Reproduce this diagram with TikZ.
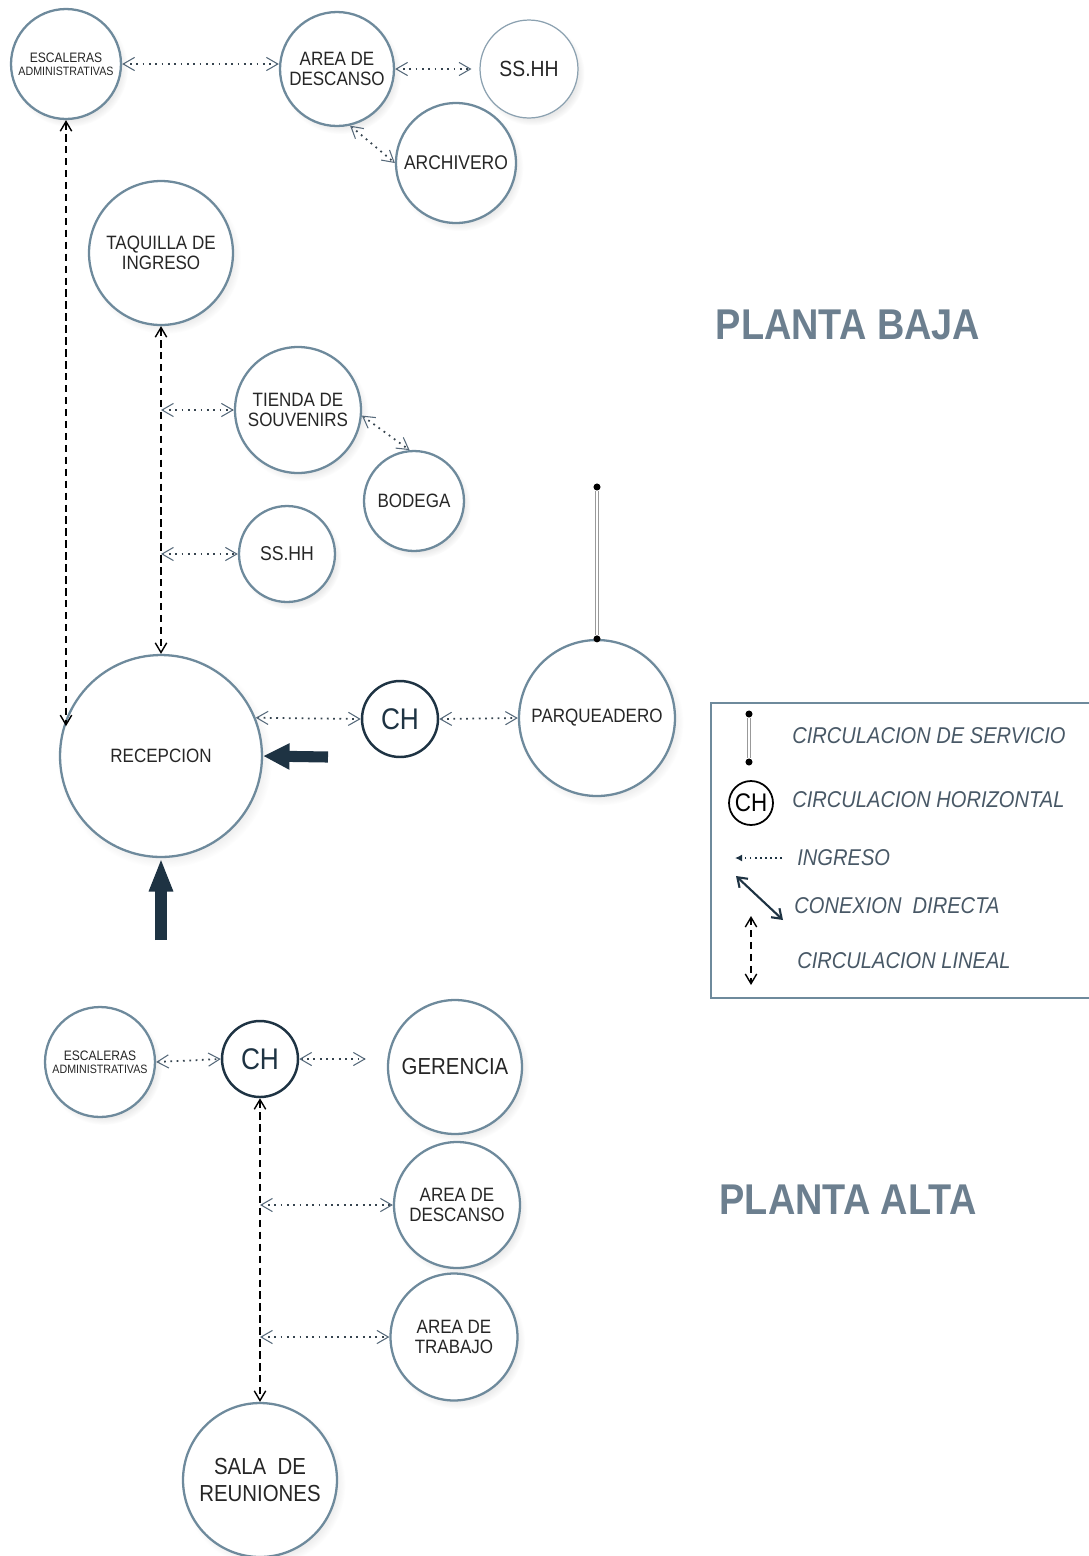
\documentclass[tikz,border=0pt]{standalone}
\usepackage{fontspec}
\setmainfont{Liberation Sans}[FakeStretch=0.88]
\usetikzlibrary{arrows.meta,positioning,calc,shadows}

\definecolor{ringblue}{HTML}{6E8A9C}
\definecolor{tipblue}{HTML}{56697A}
\definecolor{dotdark}{HTML}{36444F}
\definecolor{navy}{HTML}{1E3343}
\definecolor{titlegray}{HTML}{6C7F8F}
\definecolor{legendtext}{HTML}{485866}
\definecolor{labeltext}{HTML}{262626}

\begin{document}
\begin{tikzpicture}[
  x=0.02cm,y=-0.02cm,
  space/.style={circle,draw=ringblue,line width=1.3pt,fill=white,inner sep=0pt,align=center,text=labeltext,font=\fontsize{11}{11.5}\selectfont,
    circular drop shadow={shadow xshift=2pt,shadow yshift=-2.5pt,shadow scale=1.06,opacity=0.18}},
  stairs/.style={space,minimum size=2.2cm,font=\fontsize{7.8}{7.6}\selectfont},
  hub/.style={circle,draw=navy,line width=1.4pt,fill=white,inner sep=0pt,minimum size=1.52cm,text=navy,font=\fontsize{17}{18}\selectfont},
  ingreso/.style={{Straight Barb[length=6.5pt,width=7.5pt,line width=0.6pt,color=tipblue]}-{Straight Barb[length=6.5pt,width=7.5pt,line width=0.6pt,color=tipblue]},draw=dotdark,line width=1pt,dash pattern=on 1pt off 2.6pt},
  lineal/.style={{Straight Barb[length=5.5pt,width=6.5pt,line width=0.8pt]}-{Straight Barb[length=5.5pt,width=6.5pt,line width=0.8pt]},draw=black,line width=1.2pt,dash pattern=on 4.2pt off 2.6pt},
  entrada/.style={draw=navy,line width=6.3pt},
  servicio/.style={draw=black!40,double=white,double distance=1.3pt,line width=0.45pt},
  enddot/.style={circle,fill=black,inner sep=0pt,minimum size=4pt},
  title/.style={font=\fontsize{24.5}{26}\selectfont\bfseries,text=titlegray},
  legendlabel/.style={anchor=west,inner sep=0pt,font=\fontsize{13}{14}\selectfont\itshape,text=legendtext}
]
\useasboundingbox (0,0) rectangle (1089,1556);

% Planta baja: administrative block on top, public spaces around the reception.
\node[stairs] (pbescal) at (66,64) {ESCALERAS\\{\fontsize{6.9}{7.6}\selectfont ADMINISTRATIVAS}};
\node[space,minimum size=2.28cm] (pbdesc) at (337,69) {AREA DE\\DESCANSO};
\node[space,minimum size=1.96cm,line width=0.7pt,draw=ringblue!80,font=\fontsize{12.5}{13}\selectfont] (pbss) at (529,69) {SS.HH};
\node[space,minimum size=2.4cm,font=\fontsize{11.3}{12}\selectfont] (pbarch) at (456,163) {ARCHIVERO};
\node[space,minimum size=2.88cm] (pbtaq) at (161,253) {TAQUILLA DE\\INGRESO};
\node[space,minimum size=2.52cm] (pbtienda) at (298,410) {TIENDA DE\\SOUVENIRS};
\node[space,minimum size=2.0cm] (pbbodega) at (414,501) {BODEGA};
\node[space,minimum size=1.92cm,font=\fontsize{11.4}{12}\selectfont] (pbsshh) at (287,554) {SS.HH};
\node[space,minimum size=4.04cm] (pbrecep) at (161,756) {RECEPCION};
\node[hub] (pbch) at (400,719) {CH};
\node[space,minimum size=3.12cm] (pbparq) at (597,718) {PARQUEADERO};

\draw[ingreso] (pbescal.east) -- (pbescal.east -| pbdesc.west);
\draw[ingreso,shorten >=4.5pt] (pbdesc.east) -- (pbss.west);
\draw[ingreso] (pbdesc.-77) -- (pbarch.west);
\draw[lineal] (pbescal.south) -- (pbescal.south |- pbrecep.163);
\draw[lineal] (pbtaq.south) -- (pbrecep.north);
\draw[ingreso] (pbtaq.south |- pbtienda.west) -- (pbtienda.west);
\draw[ingreso] (pbtaq.south |- pbsshh.west) -- (pbsshh.west);
\draw[ingreso] (pbtienda.-5) -- (pbbodega.95);
\draw[ingreso] (pbrecep.22) -- (pbch.west);
\draw[ingreso] (pbch.east) -- (pbparq.west);

% Service line above the parking
\node[enddot] (pbservtop) at (597,487) {};
\node[enddot] (pbservbot) at (pbparq.north) {};
\draw[servicio] (pbservtop) -- (pbservbot);

% Entrances
\coordinate (pbentE) at (328,757);
\coordinate (pbentS) at (161,940);
\draw[entrada,-{Triangle[length=15pt,width=14pt]}] (pbentE) -- (pbrecep.east);
\draw[entrada,-{Triangle[length=19pt,width=12.5pt]}] (pbentS) -- (pbrecep.south);

\node[title] (pbtitle) at (848,325) {PLANTA BAJA};

% Planta alta
\node[stairs] (paescal) at (100,1062) {ESCALERAS\\{\fontsize{6.9}{7.6}\selectfont ADMINISTRATIVAS}};
\node[hub] (pach) at (260,1059) {CH};
\node[space,minimum size=2.68cm,font=\fontsize{13.2}{14}\selectfont] (pager) at (455,1067) {GERENCIA};
\node[space,minimum size=2.52cm] (padesc) at (457,1205) {AREA DE\\DESCANSO};
\node[space,minimum size=2.54cm] (patrab) at (454,1337) {AREA DE\\TRABAJO};
\node[space,minimum size=3.08cm,font=\fontsize{13.2}{15}\selectfont] (pasala) at (260,1480) {SALA\ \ DE\\REUNIONES};

\draw[ingreso] (paescal.east) -- (pach.west);
\draw[ingreso,shorten >=12pt] (pach.east) -- (pach.east -| pager.west);
\draw[lineal] (pach.south) -- (pasala.north);
\draw[ingreso] (pach.south |- padesc.west) -- (padesc.west);
\draw[ingreso] (pach.south |- patrab.west) -- (patrab.west);

\node[title] (patitle) at (848,1200) {PLANTA ALTA};

% Legend
\draw[draw=ringblue,line width=0.8pt] (711,703) rectangle (1100,998);
\node[enddot] (lgservA) at (749,714) {};
\node[enddot] (lgservB) at (749,762) {};
\draw[servicio] (lgservA) -- (lgservB);
\node[legendlabel] (lgserv) at (792,736) {CIRCULACION DE SERVICIO};
\node[hub,minimum size=0.88cm,draw=black,line width=1pt,text=black,font=\fontsize{14.5}{15}\selectfont] (lgch) at (751,803) {CH};
\node[legendlabel] (lghor) at (792,800) {CIRCULACION HORIZONTAL};
\coordinate (lgingA) at (782,858);
\coordinate (lgingB) at (735,858);
\draw[draw=navy,line width=0.9pt,dash pattern=on 0.9pt off 2pt,-{Latex[length=4pt,width=4pt]}] (lgingA) -- (lgingB);
\node[legendlabel] (lging) at (797,858) {INGRESO};
\coordinate (lgdirA) at (736,876);
\coordinate (lgdirB) at (783,920);
\draw[draw=navy,line width=1.2pt,{Straight Barb[length=5pt,width=7pt]}-{Straight Barb[length=5pt,width=7pt]}] (lgdirA) -- (lgdirB);
\node[legendlabel] (lgdir) at (794,906) {CONEXION\ \ DIRECTA};
\coordinate (lglinA) at (751,916);
\coordinate (lglinB) at (751,985);
\draw[lineal] (lglinA) -- (lglinB);
\node[legendlabel] (lglin) at (797,961) {CIRCULACION LINEAL};
\end{tikzpicture}
\end{document}
